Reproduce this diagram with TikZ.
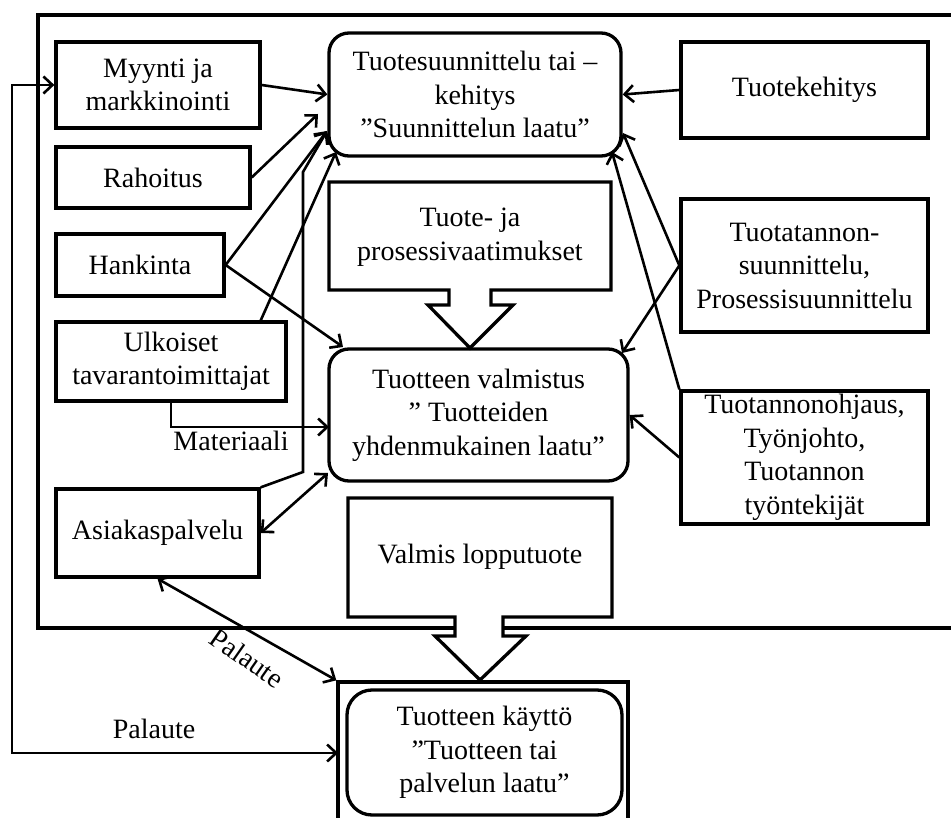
\documentclass[tikz,border=0pt]{standalone}
\usepackage{fontspec}
\setmainfont{Liberation Serif}
\usetikzlibrary{arrows.meta}
\newcommand\figfont{\fontsize{28}{33.5}\selectfont}
\begin{document}
\begin{tikzpicture}[x=1pt,y=-1pt,
  box/.style={draw, line width=3.3pt, inner sep=0pt, align=center, font=\figfont},
  rbox/.style={box, rounded corners=20pt},
  label/.style={font=\figfont, inner sep=0pt, align=center},
  conn/.style={line width=2.6pt, >={Straight Barb[length=9pt,width=17pt]}},
  frame/.style={line width=4.2pt},
  blockarrow/.style={draw, line width=3.3pt, line join=miter}]
\useasboundingbox (0,0) rectangle (951,818);
\clip (0,0) rectangle (951,818);

% company frame, open at the bottom where the finished product leaves it
\draw[frame] (960,15) -- (38,15) -- (38,628) -- (455,628);
\draw[frame] (503,628) -- (960,628);

% left column
\node[box, minimum width=204pt, minimum height=86pt] (myynti) at (158,85) {Myynti ja\\markkinointi};
\node[box, minimum width=194pt, minimum height=61pt] (rahoitus) at (153,177.5) {Rahoitus};
\node[box, minimum width=168pt, minimum height=62pt] (hankinta) at (140,265) {Hankinta};
\node[box, minimum width=230pt, minimum height=79pt] (ulkoiset) at (171,361.5) {Ulkoiset\\tavarantoimittajat};
\node[box, minimum width=203pt, minimum height=88pt] (asiakas) at (157.5,533) {Asiakaspalvelu};

% middle column
\node[rbox, minimum width=292pt, minimum height=123pt] (suunn) at (475,94.5) {Tuotesuunnittelu tai –\\kehitys\\”Suunnittelun laatu”};
\node[rbox, minimum width=299pt, minimum height=132pt] (valmistus) at (478.5,415) {Tuotteen valmistus\\” Tuotteiden\\yhdenmukainen laatu”};

% block arrows
\draw[blockarrow] (329,182) -- (611,182) -- (611,290) -- (491,290) -- (491,305) -- (513,305)
  -- (470,348) -- (428,305) -- (449,305) -- (449,290) -- (329,290) -- cycle;
\node[label] (vaatim) at (470,237) {Tuote- ja\\prosessivaatimukset};
\draw[blockarrow] (348,498) -- (612,498) -- (612,617) -- (503,617) -- (503,636) -- (526,636)
  -- (480,680) -- (435,636) -- (455,636) -- (455,617) -- (348,617) -- cycle;
\node[label] (valmis) at (480,557) {Valmis lopputuote};

% right column
\node[box, minimum width=247pt, minimum height=96pt] (kehitys) at (804.5,90) {Tuotekehitys};
\node[box, minimum width=247pt, minimum height=133pt] (tuotanto) at (804.5,265.5) {Tuotatannon-\\suunnittelu,\\Prosessisuunnittelu};
\node[box, minimum width=247pt, minimum height=133pt] (ohjaus) at (804.5,457.5) {Tuotannonohjaus,\\Työnjohto,\\Tuotannon\\työntekijät};

% product use, outside the company
\node[draw, line width=3.3pt, inner sep=0pt, minimum width=290pt, minimum height=153pt] (kayttoOuter) at (483,758.5) {};
\node[rbox, rounded corners=25pt, minimum width=275pt, minimum height=125pt] (kaytto) at (484.5,752.5) {Tuotteen käyttö\\”Tuotteen tai\\palvelun laatu”};

% connector end points
\coordinate (sIn2) at (318,114);
\coordinate (sIn3) at (327,131);
\coordinate (sIn4) at (336,152);
\coordinate (sIn5) at (623,133);
\coordinate (sIn6) at (612,152);
\coordinate (vIn1) at (343,347);
\coordinate (vIn2) at (329,427);
\coordinate (vIn3) at (328,473);
\coordinate (vIn4) at (622,353);
\coordinate (uTop) at (260,322);
\coordinate (aBend) at (303,472);
\coordinate (aTop) at (303,172);
\coordinate (kIn) at (338,753);
\coordinate (loopCorner) at (12,753);

% connectors
\draw[conn,->] (myynti.east) -- (suunn.west);
\draw[conn,->] (rahoitus.east) -- (sIn2);
\draw[conn,->] (hankinta.east) -- (sIn3);
\draw[conn,->] (asiakas.north east) -- (aBend) -- (aTop) -- (sIn3);
\draw[conn,->] (uTop) -- (sIn4);
\draw[conn,->] (hankinta.east) -- (vIn1);
\draw[conn,->] (ulkoiset.south) |- (vIn2);
\draw[conn,<->] (asiakas.east) -- (vIn3);
\draw[conn,<->] (asiakas.south) -- (kayttoOuter.north west);
\draw[conn,<->] (kIn) -- (loopCorner) |- (myynti.west);
\draw[conn,->] (kehitys.west) -- (suunn.east);
\draw[conn,->] (tuotanto.west) -- (sIn5);
\draw[conn,->] (tuotanto.west) -- (vIn4);
\draw[conn,->] (ohjaus.north west) -- (sIn6);
\draw[conn,->] (ohjaus.west) -- (valmistus.east);

% connector labels
\node[label] (materiaali) at (231,441) {Materiaali};
\node[label] (palauteA) at (154,729) {Palaute};
\node[label, rotate=-35] (palauteB) at (247,658) {Palaute};
\end{tikzpicture}
\end{document}
